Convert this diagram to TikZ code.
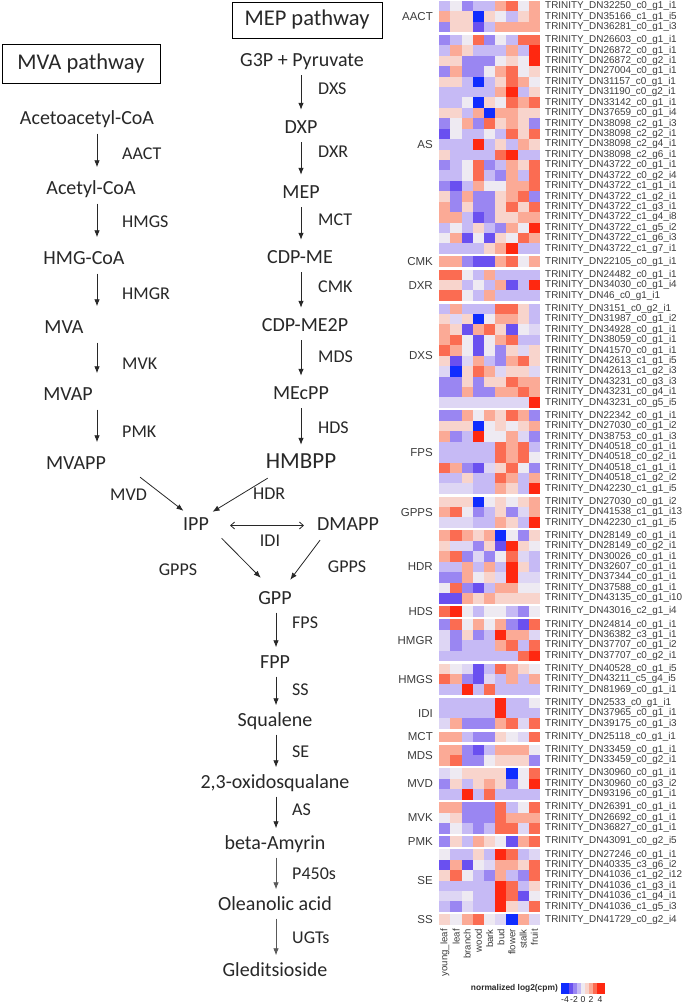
\documentclass[tikz,border=0pt]{standalone}
\usepackage{fontspec}
\setmainfont{Carlito}
\newfontfamily\arialf{Liberation Sans}
\usetikzlibrary{arrows.meta}
\definecolor{hc0}{RGB}{16,44,255}
\definecolor{hc1}{RGB}{106,80,240}
\definecolor{hc2}{RGB}{154,134,242}
\definecolor{hc3}{RGB}{198,186,245}
\definecolor{hc9}{RGB}{222,214,244}
\definecolor{hc4}{RGB}{238,234,242}
\definecolor{hc5}{RGB}{248,212,204}
\definecolor{hc6}{RGB}{251,170,150}
\definecolor{hc7}{RGB}{251,108,82}
\definecolor{hc8}{RGB}{255,40,16}
\definecolor{txt}{RGB}{40,40,40}
\definecolor{lbl}{RGB}{60,60,60}
\newcommand\hmrow[4]{%
  \pgfmathsetmacro\hmy{1+(#1-1)*10.42+#2*2.7}%
  \foreach \v [count=\i] in {#3} {%
    \fill[fill=hc\v] ({439.3+(\i-1)*11.19},\hmy) rectangle ++(11.3,10.5);}%
  \node[rowlab] (row#1) at (545,\hmy+5.21) {TRINITY\_#4};}
\newcommand\hmgroup[5]{%
  \pgfmathsetmacro\hgy{1+(#3-1+#4)/2*10.42+#5*2.7}%
  \node[grplab] (#1) at (433,\hgy) {#2};}
\tikzset{
  rowlab/.style={anchor=west,inner sep=0pt,text=lbl,font=\arialf\fontsize{9.9}{12}\selectfont},
  grplab/.style={anchor=east,inner sep=0pt,text=lbl,font=\arialf\fontsize{11.5}{13}\selectfont},
  collab/.style={anchor=east,rotate=90,inner sep=0pt,text=lbl,font=\arialf\fontsize{9.6}{11}\selectfont},
  comp/.style={inner sep=0pt,text height=14pt,text depth=4pt,text=txt,font=\fontsize{20}{24}\selectfont},
  enz/.style={anchor=west,inner sep=0pt,text=txt,font=\fontsize{18}{22}\selectfont},
  pbox/.style={draw,line width=0.8pt,inner sep=0pt,text=txt,font=\fontsize{22.5}{26}\selectfont},
  arr/.style={-{Latex[length=7pt,width=5.5pt]},line width=0.8pt,draw=txt},
  mvaarr/.style={arr,shorten <=5pt,shorten >=13pt},
  meparr/.style={arr,shorten <=4.5pt,shorten >=9.5pt},
  lowarr/.style={arr,shorten <=4pt,shorten >=7pt},
}
\begin{document}
\begin{tikzpicture}[x=1pt,y=-1pt]
\useasboundingbox[fill=white] (0,0) rectangle (685,1003);
% ---------- pathway boxes ----------
\node[pbox,minimum width=158pt,minimum height=39pt] (mvabox) at (81,63.5) {MVA pathway};
\node[pbox,minimum width=150pt,minimum height=36pt] (mepbox) at (307,20) {MEP pathway};
% ---------- MVA column ----------
\coordinate (mvax) at (97,0);
\node[comp] (acac) at (87,119.5) {Acetoacetyl-CoA};
\node[comp] (acetyl) at (91,189.5) {Acetyl-CoA};
\node[comp] (hmgcoa) at (84,259.5) {HMG-CoA};
\node[comp] (mva) at (64,328.5) {MVA};
\node[comp] (mvap) at (68,395.5) {MVAP};
\node[comp] (mvapp) at (76,464.5) {MVAPP};
\draw[mvaarr] (acac.south -| mvax) -- (acetyl.north -| mvax);
\draw[mvaarr] (acetyl.south -| mvax) -- (hmgcoa.north -| mvax);
\draw[mvaarr] (hmgcoa.south -| mvax) -- (mva.north -| mvax);
\draw[mvaarr] (mva.south -| mvax) -- (mvap.north -| mvax);
\draw[mvaarr] (mvap.south -| mvax) -- (mvapp.north -| mvax);
\node[enz] (eAACT) at (122,154) {AACT};
\node[enz] (eHMGS) at (122,222) {HMGS};
\node[enz] (eHMGR) at (122,294) {HMGR};
\node[enz] (eMVK) at (122,364) {MVK};
\node[enz] (ePMK) at (122,432) {PMK};
\node[enz] (eMVD) at (110,495) {MVD};
% ---------- MEP column ----------
\coordinate (mepx) at (301,0);
\node[comp] (g3p) at (302,61.5) {G3P + Pyruvate};
\node[comp] (dxp) at (301,128.5) {DXP};
\node[comp] (mep) at (301,193.5) {MEP};
\node[comp] (cdpme) at (300,258.5) {CDP-ME};
\node[comp] (cdpme2p) at (305,326.5) {CDP-ME2P};
\node[comp] (mecpp) at (301,394.5) {MEcPP};
\node[comp,font=\fontsize{23}{27}\selectfont] (hmbpp) at (301,463.5) {HMBPP};
\draw[meparr] (g3p.south -| mepx) -- (dxp.north -| mepx);
\draw[meparr] (dxp.south -| mepx) -- (mep.north -| mepx);
\draw[meparr] (mep.south -| mepx) -- (cdpme.north -| mepx);
\draw[meparr] (cdpme.south -| mepx) -- (cdpme2p.north -| mepx);
\draw[meparr] (cdpme2p.south -| mepx) -- (mecpp.north -| mepx);
\draw[meparr] (mecpp.south -| mepx) -- (hmbpp.north -| mepx);
\node[enz] (eDXS) at (318,89) {DXS};
\node[enz] (eDXR) at (318,152) {DXR};
\node[enz] (eMCT) at (318,220) {MCT};
\node[enz] (eCMK) at (318,287) {CMK};
\node[enz] (eMDS) at (318,357) {MDS};
\node[enz] (eHDS) at (318,428) {HDS};
\node[enz] (eHDR) at (253,494) {HDR};
% ---------- IPP / DMAPP ----------
\node[comp] (ipp) at (196,525.5) {IPP};
\node[comp] (dmapp) at (348,525.5) {DMAPP};
\draw[arr] ([xshift=34pt,yshift=-3.5pt]mvapp.south east) -- ([xshift=0.5pt,yshift=5.5pt]ipp.north west);
\draw[arr] ([xshift=2pt,yshift=-5.5pt]hmbpp.south west) -- ([xshift=3.5pt,yshift=4.5pt]ipp.north east);
\draw[line width=0.8pt,draw=txt,{Straight Barb[length=4pt,width=7pt]}-{Straight Barb[length=4pt,width=7pt]},shorten <=21pt,shorten >=13pt] (ipp.east) -- (dmapp.west);
\node[enz,anchor=center] (eIDI) at (270,541) {IDI};
\node[comp] (gpp) at (275,599.5) {GPP};
\draw[arr] ([xshift=12.5pt,yshift=-3.5pt]ipp.south east) -- ([xshift=2.6pt,yshift=12.5pt]gpp.north west);
\draw[arr] ([xshift=-28pt,yshift=-5.5pt]dmapp.south) -- ([xshift=-1.6pt,yshift=10.5pt]gpp.north east);
\node[enz,anchor=center] (eGPPS1) at (178,570) {GPPS};
\node[enz,anchor=center] (eGPPS2) at (347,567) {GPPS};
% ---------- lower column ----------
\coordinate (lowx) at (276,0);
\node[comp] (fpp) at (275,663.5) {FPP};
\node[comp] (squalene) at (275,721.5) {Squalene};
\node[comp] (oxido) at (275,783.5) {2,3-oxidosqualane};
\node[comp] (amyrin) at (275,844.5) {beta-Amyrin};
\node[comp] (oleanolic) at (275,905.5) {Oleanolic acid};
\node[comp] (gled) at (275,971.5) {Gleditsioside};
\draw[lowarr] (gpp.south -| lowx) -- (fpp.north -| lowx);
\draw[lowarr] (fpp.south -| lowx) -- (squalene.north -| lowx);
\draw[lowarr] (squalene.south -| lowx) -- (oxido.north -| lowx);
\draw[lowarr] (oxido.south -| lowx) -- (amyrin.north -| lowx);
\draw[lowarr,draw=black!65] (amyrin.south -| lowx) -- (oleanolic.north -| lowx);
\draw[lowarr,draw=black!65] (oleanolic.south -| lowx) -- (gled.north -| lowx);
\node[enz] (eFPS) at (292,623) {FPS};
\node[enz] (eSS) at (292,690) {SS};
\node[enz] (eSE) at (292,752) {SE};
\node[enz] (eAS) at (292,810) {AS};
\node[enz] (eP450) at (292,874) {P450s};
\node[enz] (eUGT) at (292,938) {UGTs};
% ---------- heatmap ----------
\hmrow{1}{0}{3,4,2,3,3,6,7,4,6}{DN32250\_c0\_g1\_i1}
\hmrow{2}{0}{6,5,5,0,5,4,3,5,6}{DN35166\_c1\_g1\_i5}
\hmrow{3}{0}{2,5,5,1,3,6,6,6,6}{DN36281\_c0\_g1\_i3}
\hmrow{4}{1}{2,3,4,7,2,4,3,7,7}{DN26603\_c0\_g1\_i1}
\hmrow{5}{1}{3,6,5,3,3,3,6,3,8}{DN26872\_c0\_g1\_i1}
\hmrow{6}{1}{5,5,2,2,2,4,5,4,8}{DN26872\_c0\_g2\_i1}
\hmrow{7}{1}{2,6,2,2,4,6,7,4,5}{DN27004\_c0\_g1\_i1}
\hmrow{8}{1}{5,5,3,0,3,5,7,6,4}{DN31157\_c0\_g1\_i1}
\hmrow{9}{1}{3,3,3,3,3,6,8,3,5}{DN31190\_c0\_g2\_i1}
\hmrow{10}{1}{3,3,4,0,5,4,7,6,7}{DN33142\_c0\_g1\_i1}
\hmrow{11}{1}{5,5,3,6,0,6,6,5,5}{DN37659\_c0\_g1\_i4}
\hmrow{12}{1}{2,4,6,2,7,5,6,5,2}{DN38098\_c2\_g1\_i3}
\hmrow{13}{1}{1,4,3,3,4,3,7,5,7}{DN38098\_c2\_g2\_i1}
\hmrow{14}{1}{3,3,3,8,3,5,3,6,5}{DN38098\_c2\_g4\_i1}
\hmrow{15}{1}{5,3,3,3,3,7,8,3,3}{DN38098\_c2\_g6\_i1}
\hmrow{16}{1}{2,3,4,7,2,3,6,5,7}{DN43722\_c0\_g1\_i1}
\hmrow{17}{1}{3,3,4,7,3,2,6,3,7}{DN43722\_c0\_g2\_i4}
\hmrow{18}{1}{2,1,3,6,4,4,6,6,7}{DN43722\_c1\_g1\_i1}
\hmrow{19}{1}{5,2,6,2,2,5,6,7,2}{DN43722\_c1\_g2\_i1}
\hmrow{20}{1}{6,2,5,2,2,5,7,5,7}{DN43722\_c1\_g3\_i1}
\hmrow{21}{1}{6,6,3,1,2,5,5,6,6}{DN43722\_c1\_g4\_i8}
\hmrow{22}{1}{3,4,3,5,3,2,6,4,8}{DN43722\_c1\_g5\_i2}
\hmrow{23}{1}{4,6,1,4,1,5,4,7,6}{DN43722\_c1\_g6\_i3}
\hmrow{24}{1}{3,3,3,3,5,6,8,3,3}{DN43722\_c1\_g7\_i1}
\hmrow{25}{2}{6,6,2,1,1,6,7,4,6}{DN22105\_c0\_g1\_i1}
\hmrow{26}{3}{7,7,4,3,6,3,3,3,3}{DN24482\_c0\_g1\_i1}
\hmrow{27}{3}{5,5,3,4,3,6,1,3,8}{DN34030\_c0\_g1\_i4}
\hmrow{28}{3}{7,7,4,3,6,3,3,3,3}{DN46\_c0\_g1\_i1}
\hmrow{29}{4}{3,6,3,3,3,7,7,5,3}{DN3151\_c0\_g2\_i1}
\hmrow{30}{4}{5,9,5,0,4,6,6,5,3}{DN31987\_c0\_g1\_i2}
\hmrow{31}{4}{6,5,1,6,7,5,1,4,9}{DN34928\_c0\_g1\_i1}
\hmrow{32}{4}{6,7,4,1,4,6,7,3,3}{DN38059\_c0\_g1\_i1}
\hmrow{33}{4}{7,6,4,1,4,2,5,9,5}{DN41570\_c0\_g1\_i1}
\hmrow{34}{4}{5,1,9,6,3,2,6,7,5}{DN42613\_c1\_g1\_i5}
\hmrow{35}{4}{9,0,5,7,6,9,5,5,9}{DN42613\_c1\_g2\_i3}
\hmrow{36}{4}{2,2,5,2,5,5,7,6,6}{DN43231\_c0\_g3\_i3}
\hmrow{37}{4}{2,2,6,2,2,6,6,7,6}{DN43231\_c0\_g4\_i1}
\hmrow{38}{4}{9,9,9,9,9,9,9,9,8}{DN43231\_c0\_g5\_i5}
\hmrow{39}{5}{2,2,6,4,6,5,7,6,2}{DN22342\_c0\_g1\_i1}
\hmrow{40}{5}{5,5,5,0,4,5,4,5,6}{DN27030\_c0\_g1\_i2}
\hmrow{41}{5}{6,2,3,8,4,4,6,9,2}{DN38753\_c0\_g1\_i3}
\hmrow{42}{5}{3,3,3,3,3,7,6,7,3}{DN40518\_c0\_g1\_i1}
\hmrow{43}{5}{3,3,3,3,3,7,6,7,4}{DN40518\_c0\_g2\_i1}
\hmrow{44}{5}{7,6,2,1,9,5,7,4,2}{DN40518\_c1\_g1\_i1}
\hmrow{45}{5}{3,3,5,3,3,7,6,3,6}{DN40518\_c1\_g2\_i2}
\hmrow{46}{5}{9,9,9,3,3,6,5,3,8}{DN42230\_c1\_g1\_i5}
\hmrow{47}{6}{5,5,5,0,4,5,4,5,6}{DN27030\_c0\_g1\_i2}
\hmrow{48}{6}{6,7,4,2,3,5,2,9,6}{DN41538\_c1\_g1\_i13}
\hmrow{49}{6}{9,9,9,3,3,6,5,3,8}{DN42230\_c1\_g1\_i5}
\hmrow{50}{7}{6,7,6,5,6,0,4,2,5}{DN28149\_c0\_g1\_i1}
\hmrow{51}{7}{5,9,9,2,5,1,8,5,4}{DN28149\_c0\_g2\_i1}
\hmrow{52}{7}{6,7,2,9,2,4,7,9,3}{DN30026\_c0\_g1\_i1}
\hmrow{53}{7}{3,3,6,3,6,3,8,5,3}{DN32607\_c0\_g1\_i1}
\hmrow{54}{7}{2,2,6,4,5,9,8,9,9}{DN37344\_c0\_g1\_i1}
\hmrow{55}{7}{4,7,2,1,3,6,6,4,4}{DN37588\_c0\_g1\_i1}
\hmrow{56}{7}{1,1,6,5,6,5,5,5,5}{DN43135\_c0\_g1\_i10}
\hmrow{57}{8}{7,8,4,3,4,4,3,2,4}{DN43016\_c2\_g1\_i4}
\hmrow{58}{9}{2,7,4,6,4,6,2,1,7}{DN24814\_c0\_g1\_i1}
\hmrow{59}{9}{9,2,5,2,3,8,6,6,9}{DN36382\_c3\_g1\_i1}
\hmrow{60}{9}{9,2,3,3,3,6,7,3,7}{DN37707\_c0\_g1\_i2}
\hmrow{61}{9}{3,3,3,3,3,3,3,7,8}{DN37707\_c0\_g2\_i1}
\hmrow{62}{10}{5,4,9,1,3,7,6,5,4}{DN40528\_c0\_g1\_i5}
\hmrow{63}{10}{7,6,2,1,9,3,6,3,6}{DN43211\_c5\_g4\_i5}
\hmrow{64}{10}{3,3,8,3,7,3,3,3,3}{DN81969\_c0\_g1\_i1}
\hmrow{65}{11}{3,3,3,3,3,8,3,3,4}{DN2533\_c0\_g1\_i1}
\hmrow{66}{11}{3,3,3,3,3,8,3,3,3}{DN37965\_c0\_g1\_i1}
\hmrow{67}{11}{9,6,2,2,2,6,7,9,7}{DN39175\_c0\_g1\_i3}
\hmrow{68}{12}{6,6,3,2,2,5,4,9,7}{DN25118\_c0\_g1\_i1}
\hmrow{69}{13}{6,6,2,1,3,6,6,6,4}{DN33459\_c0\_g1\_i1}
\hmrow{70}{13}{6,7,2,2,4,5,5,5,2}{DN33459\_c0\_g2\_i1}
\hmrow{71}{14}{9,4,5,5,5,5,0,4,7}{DN30960\_c0\_g1\_i1}
\hmrow{72}{14}{2,5,3,5,6,5,2,4,8}{DN30960\_c0\_g3\_i2}
\hmrow{73}{14}{3,3,8,3,7,3,3,3,3}{DN93196\_c0\_g1\_i1}
\hmrow{74}{15}{6,6,2,2,2,7,3,4,7}{DN26391\_c0\_g1\_i1}
\hmrow{75}{15}{4,5,2,2,2,7,6,6,6}{DN26692\_c0\_g1\_i1}
\hmrow{76}{15}{2,4,3,2,3,7,7,9,7}{DN36827\_c0\_g1\_i1}
\hmrow{77}{16}{2,5,3,6,5,4,1,6,7}{DN43091\_c0\_g2\_i5}
\hmrow{78}{17}{4,3,3,5,3,8,7,3,9}{DN27246\_c0\_g1\_i1}
\hmrow{79}{17}{1,6,1,4,9,6,6,5,7}{DN40335\_c3\_g6\_i2}
\hmrow{80}{17}{5,7,4,3,2,6,3,2,7}{DN41036\_c1\_g2\_i12}
\hmrow{81}{17}{3,3,3,3,3,8,7,3,5}{DN41036\_c1\_g3\_i1}
\hmrow{82}{17}{9,9,4,3,3,8,7,1,4}{DN41036\_c1\_g4\_i1}
\hmrow{83}{17}{3,2,9,3,3,8,5,9,7}{DN41036\_c1\_g5\_i3}
\hmrow{84}{18}{5,4,6,7,4,9,0,6,9}{DN41729\_c0\_g2\_i4}
% group labels
\hmgroup{gAACT}{AACT}{1}{3}{0}
\hmgroup{gAS}{AS}{4}{24}{1}
\hmgroup{gCMK}{CMK}{25}{25}{2}
\hmgroup{gDXR}{DXR}{26}{28}{3}
\hmgroup{gDXS}{DXS}{29}{38}{4}
\hmgroup{gFPS}{FPS}{39}{46}{5}
\hmgroup{gGPPS}{GPPS}{47}{49}{6}
\hmgroup{gHDR}{HDR}{50}{56}{7}
\hmgroup{gHDS}{HDS}{57}{57}{8}
\hmgroup{gHMGR}{HMGR}{58}{61}{9}
\hmgroup{gHMGS}{HMGS}{62}{64}{10}
\hmgroup{gIDI}{IDI}{65}{67}{11}
\hmgroup{gMCT}{MCT}{68}{68}{12}
\hmgroup{gMDS}{MDS}{69}{70}{13}
\hmgroup{gMVD}{MVD}{71}{73}{14}
\hmgroup{gMVK}{MVK}{74}{76}{15}
\hmgroup{gPMK}{PMK}{77}{77}{16}
\hmgroup{gSE}{SE}{78}{83}{17}
\hmgroup{gSS}{SS}{84}{84}{18}
% column labels
\foreach \c [count=\i] in {young\_leaf,leaf,branch,wood,bark,bud,flower,stalk,fruit}
  \node[collab] (col\i) at ({439.3+(\i-0.5)*11.19},929) {\c};
% legend
\node[anchor=east,inner sep=0pt,text=txt,font=\arialf\bfseries\fontsize{8.4}{10}\selectfont] (legt) at (558,988.5) {normalized log2(cpm)};
\foreach \v [count=\i] in {0,0,1,2,3,4,5,6,7,8,8}
  \fill[fill=hc\v] ({561+(\i-1)*4},983) rectangle ++(4.1,11);
\foreach \t/\xx [count=\i] in {-4/565,-2/574,0/583,2/591,4/600}
  \node[inner sep=0pt,text=txt,font=\arialf\fontsize{8.6}{10}\selectfont] (tick\i) at (\xx,999.5) {\t};
\end{tikzpicture}
\end{document}
